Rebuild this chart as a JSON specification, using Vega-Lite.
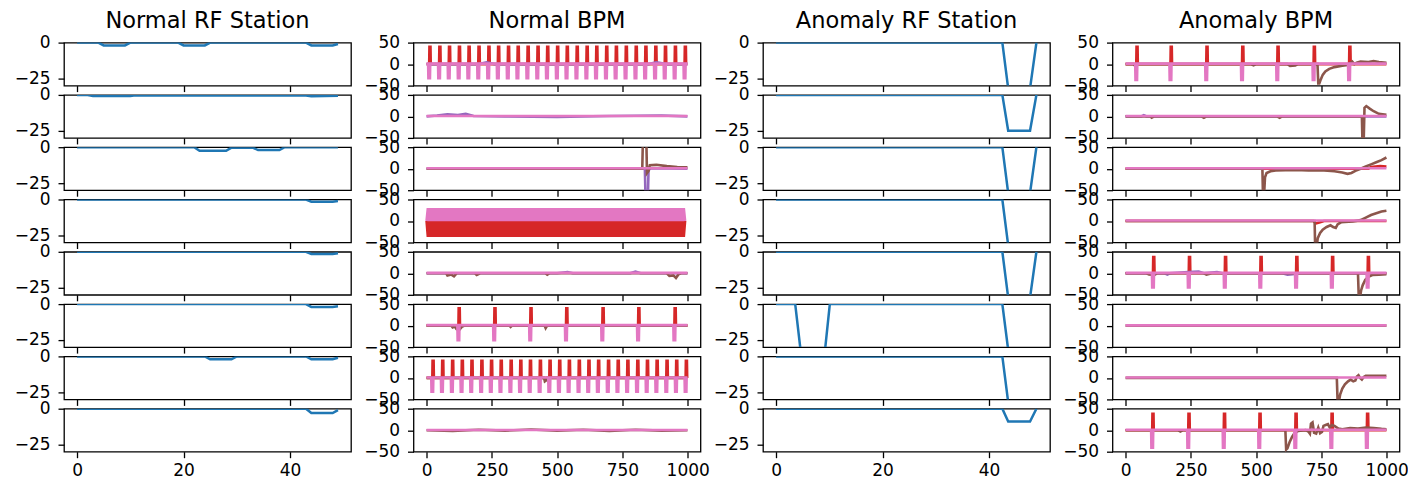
{
"$schema":"https://vega.github.io/schema/vega-lite/v6.json",
"padding":{"left":13,"top":8.6,"right":5,"bottom":0},
"background":"white",
"config":{
"view":{"stroke":"#000","strokeWidth":1.3},
"axis":{"grid":false,"domain":false,"ticks":true,"tickColor":"#000","tickWidth":1.3,"tickSize":6,"labelFont":"DejaVu Sans","labelFontSize":17,"labelColor":"#000","labelFlush":false,"labelOverlap":false,"labelBound":false},
"axisY":{"labelPadding":8},
"axisX":{"labelPadding":5,"format":"d"},
"title":{"font":"DejaVu Sans","fontSize":22.5,"fontWeight":"normal","color":"#000","anchor":"middle","frame":"group","baseline":"alphabetic","offset":1}
},
"datasets":{
"nr1":[{"x":0,"y":0},{"x":4,"y":0},{"x":5,"y":-2},{"x":9,"y":-2},{"x":10,"y":0},{"x":19,"y":0},{"x":20,"y":-2},{"x":24,"y":-2},{"x":25,"y":0},{"x":43,"y":0},{"x":44,"y":-2},{"x":48,"y":-2},{"x":49,"y":-1}],
"nr2":[{"x":0,"y":0},{"x":2,"y":0},{"x":3,"y":-0.7},{"x":10,"y":-0.7},{"x":11,"y":-0.3},{"x":30,"y":-0.4},{"x":43,"y":-0.4},{"x":44,"y":-0.9},{"x":49,"y":-0.6}],
"nr3":[{"x":0,"y":0},{"x":22,"y":0},{"x":23,"y":-2.5},{"x":28,"y":-2.5},{"x":29,"y":-0.3},{"x":33,"y":-0.3},{"x":34,"y":-2},{"x":38,"y":-2},{"x":39,"y":0},{"x":49,"y":0}],
"nr4":[{"x":0,"y":0},{"x":43,"y":0},{"x":44,"y":-1.5},{"x":48,"y":-1.5},{"x":49,"y":-1}],
"nr5":[{"x":0,"y":0},{"x":43,"y":0},{"x":44,"y":-1.5},{"x":48,"y":-1.5},{"x":49,"y":-1}],
"nr6":[{"x":0,"y":0},{"x":43,"y":0},{"x":44,"y":-2},{"x":48,"y":-2},{"x":49,"y":-1.5}],
"nr7":[{"x":0,"y":0},{"x":24,"y":0},{"x":25,"y":-2},{"x":29,"y":-2},{"x":30,"y":0},{"x":43,"y":0},{"x":44,"y":-2},{"x":48,"y":-2},{"x":49,"y":-1}],
"nr8":[{"x":0,"y":0},{"x":43,"y":0},{"x":44,"y":-3},{"x":48,"y":-3},{"x":49,"y":-1}],
"ar1":[{"x":0,"y":0},{"x":42.5,"y":0},{"x":43.6,"y":-32},{"x":47.7,"y":-32},{"x":48.9,"y":0}],
"ar2":[{"x":0,"y":0},{"x":42.5,"y":0},{"x":43.6,"y":-25},{"x":47.7,"y":-25},{"x":48.9,"y":0}],
"ar3":[{"x":0,"y":0},{"x":42.5,"y":0},{"x":43.6,"y":-32},{"x":47.7,"y":-32},{"x":48.9,"y":0}],
"ar4":[{"x":0,"y":0},{"x":42.5,"y":0},{"x":43.6,"y":-32},{"x":49,"y":-32}],
"ar5":[{"x":0,"y":0},{"x":42.5,"y":0},{"x":43.6,"y":-32},{"x":47.7,"y":-32},{"x":48.9,"y":0}],
"ar6":[{"x":0,"y":0},{"x":3.6,"y":0},{"x":4.6,"y":-32},{"x":9.2,"y":-32},{"x":10.1,"y":0},{"x":42.5,"y":0},{"x":43.6,"y":-32},{"x":49,"y":-32}],
"ar7":[{"x":0,"y":0},{"x":42.5,"y":0},{"x":43.6,"y":-32},{"x":49,"y":-32}],
"ar8":[{"x":0,"y":0},{"x":42.5,"y":0},{"x":43.6,"y":-9},{"x":47.7,"y":-9},{"x":48.9,"y":0}],
"nb1":[
{"s":"r","x":0,"y":0},
{"s":"r","x":10,"y":0},{"s":"r","x":11,"y":40},{"s":"r","x":15,"y":40},{"s":"r","x":16,"y":0},
{"s":"r","x":48,"y":0},{"s":"r","x":49,"y":40},{"s":"r","x":53,"y":40},{"s":"r","x":54,"y":0},
{"s":"r","x":85,"y":0},{"s":"r","x":86,"y":40},{"s":"r","x":90,"y":40},{"s":"r","x":91,"y":0},
{"s":"r","x":123,"y":0},{"s":"r","x":124,"y":40},{"s":"r","x":128,"y":40},{"s":"r","x":129,"y":0},
{"s":"r","x":160,"y":0},{"s":"r","x":161,"y":40},{"s":"r","x":165,"y":40},{"s":"r","x":166,"y":0},
{"s":"r","x":198,"y":0},{"s":"r","x":199,"y":40},{"s":"r","x":203,"y":40},{"s":"r","x":204,"y":0},
{"s":"r","x":236,"y":0},{"s":"r","x":237,"y":40},{"s":"r","x":241,"y":40},{"s":"r","x":242,"y":0},
{"s":"r","x":273,"y":0},{"s":"r","x":274,"y":40},{"s":"r","x":278,"y":40},{"s":"r","x":279,"y":0},
{"s":"r","x":311,"y":0},{"s":"r","x":312,"y":40},{"s":"r","x":316,"y":40},{"s":"r","x":317,"y":0},
{"s":"r","x":348,"y":0},{"s":"r","x":349,"y":40},{"s":"r","x":353,"y":40},{"s":"r","x":354,"y":0},
{"s":"r","x":386,"y":0},{"s":"r","x":387,"y":40},{"s":"r","x":391,"y":40},{"s":"r","x":392,"y":0},
{"s":"r","x":424,"y":0},{"s":"r","x":425,"y":40},{"s":"r","x":429,"y":40},{"s":"r","x":430,"y":0},
{"s":"r","x":461,"y":0},{"s":"r","x":462,"y":40},{"s":"r","x":466,"y":40},{"s":"r","x":467,"y":0},
{"s":"r","x":499,"y":0},{"s":"r","x":500,"y":40},{"s":"r","x":504,"y":40},{"s":"r","x":505,"y":0},
{"s":"r","x":536,"y":0},{"s":"r","x":537,"y":40},{"s":"r","x":541,"y":40},{"s":"r","x":542,"y":0},
{"s":"r","x":574,"y":0},{"s":"r","x":575,"y":40},{"s":"r","x":579,"y":40},{"s":"r","x":580,"y":0},
{"s":"r","x":612,"y":0},{"s":"r","x":613,"y":40},{"s":"r","x":617,"y":40},{"s":"r","x":618,"y":0},
{"s":"r","x":649,"y":0},{"s":"r","x":650,"y":40},{"s":"r","x":654,"y":40},{"s":"r","x":655,"y":0},
{"s":"r","x":687,"y":0},{"s":"r","x":688,"y":40},{"s":"r","x":692,"y":40},{"s":"r","x":693,"y":0},
{"s":"r","x":724,"y":0},{"s":"r","x":725,"y":40},{"s":"r","x":729,"y":40},{"s":"r","x":730,"y":0},
{"s":"r","x":762,"y":0},{"s":"r","x":763,"y":40},{"s":"r","x":767,"y":40},{"s":"r","x":768,"y":0},
{"s":"r","x":800,"y":0},{"s":"r","x":801,"y":40},{"s":"r","x":805,"y":40},{"s":"r","x":806,"y":0},
{"s":"r","x":837,"y":0},{"s":"r","x":838,"y":40},{"s":"r","x":842,"y":40},{"s":"r","x":843,"y":0},
{"s":"r","x":875,"y":0},{"s":"r","x":876,"y":40},{"s":"r","x":880,"y":40},{"s":"r","x":881,"y":0},
{"s":"r","x":912,"y":0},{"s":"r","x":913,"y":40},{"s":"r","x":917,"y":40},{"s":"r","x":918,"y":0},
{"s":"r","x":950,"y":0},{"s":"r","x":951,"y":40},{"s":"r","x":955,"y":40},{"s":"r","x":956,"y":0},
{"s":"r","x":988,"y":0},{"s":"r","x":989,"y":40},{"s":"r","x":993,"y":40},{"s":"r","x":994,"y":0},
{"s":"r","x":999,"y":0},
{"s":"u","x":0,"y":0},{"s":"u","x":200,"y":0},{"s":"u","x":230,"y":4},{"s":"u","x":260,"y":0},{"s":"u","x":850,"y":0},{"s":"u","x":880,"y":4},{"s":"u","x":920,"y":0},{"s":"u","x":999,"y":0},
{"s":"p","x":0,"y":1},
{"s":"p","x":6,"y":1},{"s":"p","x":7,"y":-33},{"s":"p","x":13,"y":-33},{"s":"p","x":14,"y":1},
{"s":"p","x":44,"y":1},{"s":"p","x":45,"y":-33},{"s":"p","x":51,"y":-33},{"s":"p","x":52,"y":1},
{"s":"p","x":81,"y":1},{"s":"p","x":82,"y":-33},{"s":"p","x":88,"y":-33},{"s":"p","x":89,"y":1},
{"s":"p","x":119,"y":1},{"s":"p","x":120,"y":-33},{"s":"p","x":126,"y":-33},{"s":"p","x":127,"y":1},
{"s":"p","x":156,"y":1},{"s":"p","x":157,"y":-33},{"s":"p","x":163,"y":-33},{"s":"p","x":164,"y":1},
{"s":"p","x":194,"y":1},{"s":"p","x":195,"y":-33},{"s":"p","x":201,"y":-33},{"s":"p","x":202,"y":1},
{"s":"p","x":232,"y":1},{"s":"p","x":233,"y":-33},{"s":"p","x":239,"y":-33},{"s":"p","x":240,"y":1},
{"s":"p","x":269,"y":1},{"s":"p","x":270,"y":-33},{"s":"p","x":276,"y":-33},{"s":"p","x":277,"y":1},
{"s":"p","x":307,"y":1},{"s":"p","x":308,"y":-33},{"s":"p","x":314,"y":-33},{"s":"p","x":315,"y":1},
{"s":"p","x":344,"y":1},{"s":"p","x":345,"y":-33},{"s":"p","x":351,"y":-33},{"s":"p","x":352,"y":1},
{"s":"p","x":382,"y":1},{"s":"p","x":383,"y":-33},{"s":"p","x":389,"y":-33},{"s":"p","x":390,"y":1},
{"s":"p","x":420,"y":1},{"s":"p","x":421,"y":-33},{"s":"p","x":427,"y":-33},{"s":"p","x":428,"y":1},
{"s":"p","x":457,"y":1},{"s":"p","x":458,"y":-33},{"s":"p","x":464,"y":-33},{"s":"p","x":465,"y":1},
{"s":"p","x":495,"y":1},{"s":"p","x":496,"y":-33},{"s":"p","x":502,"y":-33},{"s":"p","x":503,"y":1},
{"s":"p","x":532,"y":1},{"s":"p","x":533,"y":-33},{"s":"p","x":539,"y":-33},{"s":"p","x":540,"y":1},
{"s":"p","x":570,"y":1},{"s":"p","x":571,"y":-33},{"s":"p","x":577,"y":-33},{"s":"p","x":578,"y":1},
{"s":"p","x":608,"y":1},{"s":"p","x":609,"y":-33},{"s":"p","x":615,"y":-33},{"s":"p","x":616,"y":1},
{"s":"p","x":645,"y":1},{"s":"p","x":646,"y":-33},{"s":"p","x":652,"y":-33},{"s":"p","x":653,"y":1},
{"s":"p","x":683,"y":1},{"s":"p","x":684,"y":-33},{"s":"p","x":690,"y":-33},{"s":"p","x":691,"y":1},
{"s":"p","x":720,"y":1},{"s":"p","x":721,"y":-33},{"s":"p","x":727,"y":-33},{"s":"p","x":728,"y":1},
{"s":"p","x":758,"y":1},{"s":"p","x":759,"y":-33},{"s":"p","x":765,"y":-33},{"s":"p","x":766,"y":1},
{"s":"p","x":796,"y":1},{"s":"p","x":797,"y":-33},{"s":"p","x":803,"y":-33},{"s":"p","x":804,"y":1},
{"s":"p","x":833,"y":1},{"s":"p","x":834,"y":-33},{"s":"p","x":840,"y":-33},{"s":"p","x":841,"y":1},
{"s":"p","x":871,"y":1},{"s":"p","x":872,"y":-33},{"s":"p","x":878,"y":-33},{"s":"p","x":879,"y":1},
{"s":"p","x":908,"y":1},{"s":"p","x":909,"y":-33},{"s":"p","x":915,"y":-33},{"s":"p","x":916,"y":1},
{"s":"p","x":946,"y":1},{"s":"p","x":947,"y":-33},{"s":"p","x":953,"y":-33},{"s":"p","x":954,"y":1},
{"s":"p","x":984,"y":1},{"s":"p","x":985,"y":-33},{"s":"p","x":991,"y":-33},{"s":"p","x":992,"y":1},
{"s":"p","x":999,"y":1}
],
"nb2":[
{"s":"u","x":0,"y":0},{"s":"u","x":40,"y":2},{"s":"u","x":80,"y":5},{"s":"u","x":120,"y":3},{"s":"u","x":150,"y":6},{"s":"u","x":180,"y":1},{"s":"u","x":300,"y":0},{"s":"u","x":500,"y":-1},{"s":"u","x":700,"y":1},{"s":"u","x":900,"y":2},{"s":"u","x":999,"y":0},
{"s":"p","x":0,"y":1},{"s":"p","x":999,"y":1}
],
"nb3":[
{"s":"u","x":0,"y":0},{"s":"u","x":836,"y":0},{"s":"u","x":838,"y":-55},{"s":"u","x":848,"y":-55},{"s":"u","x":850,"y":-3},{"s":"u","x":860,"y":1},{"s":"u","x":999,"y":0},
{"s":"b","x":0,"y":0},{"s":"b","x":826,"y":0},{"s":"b","x":828,"y":55},{"s":"b","x":842,"y":55},{"s":"b","x":844,"y":-10},{"s":"b","x":850,"y":-5},{"s":"b","x":855,"y":8},{"s":"b","x":880,"y":9},{"s":"b","x":920,"y":6},{"s":"b","x":960,"y":4},{"s":"b","x":999,"y":3},
{"s":"p","x":0,"y":1},{"s":"p","x":999,"y":1}
],
"nb4":[
{"s":"r","x":0,"y":0},{"s":"r","x":5,"y":-37},{"s":"r","x":10,"y":0},{"s":"r","x":15,"y":-37},{"s":"r","x":20,"y":0},{"s":"r","x":25,"y":-37},{"s":"r","x":30,"y":0},{"s":"r","x":35,"y":-37},{"s":"r","x":40,"y":0},{"s":"r","x":45,"y":-37},
{"s":"r","x":50,"y":0},{"s":"r","x":55,"y":-37},{"s":"r","x":60,"y":0},{"s":"r","x":65,"y":-37},{"s":"r","x":70,"y":0},{"s":"r","x":75,"y":-37},{"s":"r","x":80,"y":0},{"s":"r","x":85,"y":-37},{"s":"r","x":90,"y":0},{"s":"r","x":95,"y":-37},
{"s":"r","x":100,"y":0},{"s":"r","x":105,"y":-37},{"s":"r","x":110,"y":0},{"s":"r","x":115,"y":-37},{"s":"r","x":120,"y":0},{"s":"r","x":125,"y":-37},{"s":"r","x":130,"y":0},{"s":"r","x":135,"y":-37},{"s":"r","x":140,"y":0},{"s":"r","x":145,"y":-37},
{"s":"r","x":150,"y":0},{"s":"r","x":155,"y":-37},{"s":"r","x":160,"y":0},{"s":"r","x":165,"y":-37},{"s":"r","x":170,"y":0},{"s":"r","x":175,"y":-37},{"s":"r","x":180,"y":0},{"s":"r","x":185,"y":-37},{"s":"r","x":190,"y":0},{"s":"r","x":195,"y":-37},
{"s":"r","x":200,"y":0},{"s":"r","x":205,"y":-37},{"s":"r","x":210,"y":0},{"s":"r","x":215,"y":-37},{"s":"r","x":220,"y":0},{"s":"r","x":225,"y":-37},{"s":"r","x":230,"y":0},{"s":"r","x":235,"y":-37},{"s":"r","x":240,"y":0},{"s":"r","x":245,"y":-37},
{"s":"r","x":250,"y":0},{"s":"r","x":255,"y":-37},{"s":"r","x":260,"y":0},{"s":"r","x":265,"y":-37},{"s":"r","x":270,"y":0},{"s":"r","x":275,"y":-37},{"s":"r","x":280,"y":0},{"s":"r","x":285,"y":-37},{"s":"r","x":290,"y":0},{"s":"r","x":295,"y":-37},
{"s":"r","x":300,"y":0},{"s":"r","x":305,"y":-37},{"s":"r","x":310,"y":0},{"s":"r","x":315,"y":-37},{"s":"r","x":320,"y":0},{"s":"r","x":325,"y":-37},{"s":"r","x":330,"y":0},{"s":"r","x":335,"y":-37},{"s":"r","x":340,"y":0},{"s":"r","x":345,"y":-37},
{"s":"r","x":350,"y":0},{"s":"r","x":355,"y":-37},{"s":"r","x":360,"y":0},{"s":"r","x":365,"y":-37},{"s":"r","x":370,"y":0},{"s":"r","x":375,"y":-37},{"s":"r","x":380,"y":0},{"s":"r","x":385,"y":-37},{"s":"r","x":390,"y":0},{"s":"r","x":395,"y":-37},
{"s":"r","x":400,"y":0},{"s":"r","x":405,"y":-37},{"s":"r","x":410,"y":0},{"s":"r","x":415,"y":-37},{"s":"r","x":420,"y":0},{"s":"r","x":425,"y":-37},{"s":"r","x":430,"y":0},{"s":"r","x":435,"y":-37},{"s":"r","x":440,"y":0},{"s":"r","x":445,"y":-37},
{"s":"r","x":450,"y":0},{"s":"r","x":455,"y":-37},{"s":"r","x":460,"y":0},{"s":"r","x":465,"y":-37},{"s":"r","x":470,"y":0},{"s":"r","x":475,"y":-37},{"s":"r","x":480,"y":0},{"s":"r","x":485,"y":-37},{"s":"r","x":490,"y":0},{"s":"r","x":495,"y":-37},
{"s":"r","x":500,"y":0},{"s":"r","x":505,"y":-37},{"s":"r","x":510,"y":0},{"s":"r","x":515,"y":-37},{"s":"r","x":520,"y":0},{"s":"r","x":525,"y":-37},{"s":"r","x":530,"y":0},{"s":"r","x":535,"y":-37},{"s":"r","x":540,"y":0},{"s":"r","x":545,"y":-37},
{"s":"r","x":550,"y":0},{"s":"r","x":555,"y":-37},{"s":"r","x":560,"y":0},{"s":"r","x":565,"y":-37},{"s":"r","x":570,"y":0},{"s":"r","x":575,"y":-37},{"s":"r","x":580,"y":0},{"s":"r","x":585,"y":-37},{"s":"r","x":590,"y":0},{"s":"r","x":595,"y":-37},
{"s":"r","x":600,"y":0},{"s":"r","x":605,"y":-37},{"s":"r","x":610,"y":0},{"s":"r","x":615,"y":-37},{"s":"r","x":620,"y":0},{"s":"r","x":625,"y":-37},{"s":"r","x":630,"y":0},{"s":"r","x":635,"y":-37},{"s":"r","x":640,"y":0},{"s":"r","x":645,"y":-37},
{"s":"r","x":650,"y":0},{"s":"r","x":655,"y":-37},{"s":"r","x":660,"y":0},{"s":"r","x":665,"y":-37},{"s":"r","x":670,"y":0},{"s":"r","x":675,"y":-37},{"s":"r","x":680,"y":0},{"s":"r","x":685,"y":-37},{"s":"r","x":690,"y":0},{"s":"r","x":695,"y":-37},
{"s":"r","x":700,"y":0},{"s":"r","x":705,"y":-37},{"s":"r","x":710,"y":0},{"s":"r","x":715,"y":-37},{"s":"r","x":720,"y":0},{"s":"r","x":725,"y":-37},{"s":"r","x":730,"y":0},{"s":"r","x":735,"y":-37},{"s":"r","x":740,"y":0},{"s":"r","x":745,"y":-37},
{"s":"r","x":750,"y":0},{"s":"r","x":755,"y":-37},{"s":"r","x":760,"y":0},{"s":"r","x":765,"y":-37},{"s":"r","x":770,"y":0},{"s":"r","x":775,"y":-37},{"s":"r","x":780,"y":0},{"s":"r","x":785,"y":-37},{"s":"r","x":790,"y":0},{"s":"r","x":795,"y":-37},
{"s":"r","x":800,"y":0},{"s":"r","x":805,"y":-37},{"s":"r","x":810,"y":0},{"s":"r","x":815,"y":-37},{"s":"r","x":820,"y":0},{"s":"r","x":825,"y":-37},{"s":"r","x":830,"y":0},{"s":"r","x":835,"y":-37},{"s":"r","x":840,"y":0},{"s":"r","x":845,"y":-37},
{"s":"r","x":850,"y":0},{"s":"r","x":855,"y":-37},{"s":"r","x":860,"y":0},{"s":"r","x":865,"y":-37},{"s":"r","x":870,"y":0},{"s":"r","x":875,"y":-37},{"s":"r","x":880,"y":0},{"s":"r","x":885,"y":-37},{"s":"r","x":890,"y":0},{"s":"r","x":895,"y":-37},
{"s":"r","x":900,"y":0},{"s":"r","x":905,"y":-37},{"s":"r","x":910,"y":0},{"s":"r","x":915,"y":-37},{"s":"r","x":920,"y":0},{"s":"r","x":925,"y":-37},{"s":"r","x":930,"y":0},{"s":"r","x":935,"y":-37},{"s":"r","x":940,"y":0},{"s":"r","x":945,"y":-37},
{"s":"r","x":950,"y":0},{"s":"r","x":955,"y":-37},{"s":"r","x":960,"y":0},{"s":"r","x":965,"y":-37},{"s":"r","x":970,"y":0},{"s":"r","x":975,"y":-37},{"s":"r","x":980,"y":0},{"s":"r","x":985,"y":-37},{"s":"r","x":990,"y":0},
{"s":"p","x":0,"y":0},{"s":"p","x":5,"y":30},{"s":"p","x":10,"y":0},{"s":"p","x":15,"y":30},{"s":"p","x":20,"y":0},{"s":"p","x":25,"y":30},{"s":"p","x":30,"y":0},{"s":"p","x":35,"y":30},{"s":"p","x":40,"y":0},{"s":"p","x":45,"y":30},
{"s":"p","x":50,"y":0},{"s":"p","x":55,"y":30},{"s":"p","x":60,"y":0},{"s":"p","x":65,"y":30},{"s":"p","x":70,"y":0},{"s":"p","x":75,"y":30},{"s":"p","x":80,"y":0},{"s":"p","x":85,"y":30},{"s":"p","x":90,"y":0},{"s":"p","x":95,"y":30},
{"s":"p","x":100,"y":0},{"s":"p","x":105,"y":30},{"s":"p","x":110,"y":0},{"s":"p","x":115,"y":30},{"s":"p","x":120,"y":0},{"s":"p","x":125,"y":30},{"s":"p","x":130,"y":0},{"s":"p","x":135,"y":30},{"s":"p","x":140,"y":0},{"s":"p","x":145,"y":30},
{"s":"p","x":150,"y":0},{"s":"p","x":155,"y":30},{"s":"p","x":160,"y":0},{"s":"p","x":165,"y":30},{"s":"p","x":170,"y":0},{"s":"p","x":175,"y":30},{"s":"p","x":180,"y":0},{"s":"p","x":185,"y":30},{"s":"p","x":190,"y":0},{"s":"p","x":195,"y":30},
{"s":"p","x":200,"y":0},{"s":"p","x":205,"y":30},{"s":"p","x":210,"y":0},{"s":"p","x":215,"y":30},{"s":"p","x":220,"y":0},{"s":"p","x":225,"y":30},{"s":"p","x":230,"y":0},{"s":"p","x":235,"y":30},{"s":"p","x":240,"y":0},{"s":"p","x":245,"y":30},
{"s":"p","x":250,"y":0},{"s":"p","x":255,"y":30},{"s":"p","x":260,"y":0},{"s":"p","x":265,"y":30},{"s":"p","x":270,"y":0},{"s":"p","x":275,"y":30},{"s":"p","x":280,"y":0},{"s":"p","x":285,"y":30},{"s":"p","x":290,"y":0},{"s":"p","x":295,"y":30},
{"s":"p","x":300,"y":0},{"s":"p","x":305,"y":30},{"s":"p","x":310,"y":0},{"s":"p","x":315,"y":30},{"s":"p","x":320,"y":0},{"s":"p","x":325,"y":30},{"s":"p","x":330,"y":0},{"s":"p","x":335,"y":30},{"s":"p","x":340,"y":0},{"s":"p","x":345,"y":30},
{"s":"p","x":350,"y":0},{"s":"p","x":355,"y":30},{"s":"p","x":360,"y":0},{"s":"p","x":365,"y":30},{"s":"p","x":370,"y":0},{"s":"p","x":375,"y":30},{"s":"p","x":380,"y":0},{"s":"p","x":385,"y":30},{"s":"p","x":390,"y":0},{"s":"p","x":395,"y":30},
{"s":"p","x":400,"y":0},{"s":"p","x":405,"y":30},{"s":"p","x":410,"y":0},{"s":"p","x":415,"y":30},{"s":"p","x":420,"y":0},{"s":"p","x":425,"y":30},{"s":"p","x":430,"y":0},{"s":"p","x":435,"y":30},{"s":"p","x":440,"y":0},{"s":"p","x":445,"y":30},
{"s":"p","x":450,"y":0},{"s":"p","x":455,"y":30},{"s":"p","x":460,"y":0},{"s":"p","x":465,"y":30},{"s":"p","x":470,"y":0},{"s":"p","x":475,"y":30},{"s":"p","x":480,"y":0},{"s":"p","x":485,"y":30},{"s":"p","x":490,"y":0},{"s":"p","x":495,"y":30},
{"s":"p","x":500,"y":0},{"s":"p","x":505,"y":30},{"s":"p","x":510,"y":0},{"s":"p","x":515,"y":30},{"s":"p","x":520,"y":0},{"s":"p","x":525,"y":30},{"s":"p","x":530,"y":0},{"s":"p","x":535,"y":30},{"s":"p","x":540,"y":0},{"s":"p","x":545,"y":30},
{"s":"p","x":550,"y":0},{"s":"p","x":555,"y":30},{"s":"p","x":560,"y":0},{"s":"p","x":565,"y":30},{"s":"p","x":570,"y":0},{"s":"p","x":575,"y":30},{"s":"p","x":580,"y":0},{"s":"p","x":585,"y":30},{"s":"p","x":590,"y":0},{"s":"p","x":595,"y":30},
{"s":"p","x":600,"y":0},{"s":"p","x":605,"y":30},{"s":"p","x":610,"y":0},{"s":"p","x":615,"y":30},{"s":"p","x":620,"y":0},{"s":"p","x":625,"y":30},{"s":"p","x":630,"y":0},{"s":"p","x":635,"y":30},{"s":"p","x":640,"y":0},{"s":"p","x":645,"y":30},
{"s":"p","x":650,"y":0},{"s":"p","x":655,"y":30},{"s":"p","x":660,"y":0},{"s":"p","x":665,"y":30},{"s":"p","x":670,"y":0},{"s":"p","x":675,"y":30},{"s":"p","x":680,"y":0},{"s":"p","x":685,"y":30},{"s":"p","x":690,"y":0},{"s":"p","x":695,"y":30},
{"s":"p","x":700,"y":0},{"s":"p","x":705,"y":30},{"s":"p","x":710,"y":0},{"s":"p","x":715,"y":30},{"s":"p","x":720,"y":0},{"s":"p","x":725,"y":30},{"s":"p","x":730,"y":0},{"s":"p","x":735,"y":30},{"s":"p","x":740,"y":0},{"s":"p","x":745,"y":30},
{"s":"p","x":750,"y":0},{"s":"p","x":755,"y":30},{"s":"p","x":760,"y":0},{"s":"p","x":765,"y":30},{"s":"p","x":770,"y":0},{"s":"p","x":775,"y":30},{"s":"p","x":780,"y":0},{"s":"p","x":785,"y":30},{"s":"p","x":790,"y":0},{"s":"p","x":795,"y":30},
{"s":"p","x":800,"y":0},{"s":"p","x":805,"y":30},{"s":"p","x":810,"y":0},{"s":"p","x":815,"y":30},{"s":"p","x":820,"y":0},{"s":"p","x":825,"y":30},{"s":"p","x":830,"y":0},{"s":"p","x":835,"y":30},{"s":"p","x":840,"y":0},{"s":"p","x":845,"y":30},
{"s":"p","x":850,"y":0},{"s":"p","x":855,"y":30},{"s":"p","x":860,"y":0},{"s":"p","x":865,"y":30},{"s":"p","x":870,"y":0},{"s":"p","x":875,"y":30},{"s":"p","x":880,"y":0},{"s":"p","x":885,"y":30},{"s":"p","x":890,"y":0},{"s":"p","x":895,"y":30},
{"s":"p","x":900,"y":0},{"s":"p","x":905,"y":30},{"s":"p","x":910,"y":0},{"s":"p","x":915,"y":30},{"s":"p","x":920,"y":0},{"s":"p","x":925,"y":30},{"s":"p","x":930,"y":0},{"s":"p","x":935,"y":30},{"s":"p","x":940,"y":0},{"s":"p","x":945,"y":30},
{"s":"p","x":950,"y":0},{"s":"p","x":955,"y":30},{"s":"p","x":960,"y":0},{"s":"p","x":965,"y":30},{"s":"p","x":970,"y":0},{"s":"p","x":975,"y":30},{"s":"p","x":980,"y":0},{"s":"p","x":985,"y":30},{"s":"p","x":990,"y":0}
],
"nb5":[
{"s":"u","x":0,"y":0},{"s":"u","x":500,"y":0},{"s":"u","x":540,"y":3},{"s":"u","x":560,"y":0},{"s":"u","x":780,"y":0},{"s":"u","x":800,"y":4},{"s":"u","x":820,"y":0},{"s":"u","x":999,"y":0},
{"s":"b","x":0,"y":0},{"s":"b","x":75,"y":0},{"s":"b","x":80,"y":-5},{"s":"b","x":95,"y":-3},{"s":"b","x":105,"y":-7},{"s":"b","x":115,"y":0},{"s":"b","x":185,"y":0},{"s":"b","x":192,"y":-4},{"s":"b","x":205,"y":0},{"s":"b","x":455,"y":0},{"s":"b","x":462,"y":-3},{"s":"b","x":470,"y":0},{"s":"b","x":920,"y":0},{"s":"b","x":930,"y":-6},{"s":"b","x":945,"y":-5},{"s":"b","x":955,"y":-11},{"s":"b","x":965,"y":-2},{"s":"b","x":975,"y":0},{"s":"b","x":999,"y":0},
{"s":"p","x":0,"y":1},{"s":"p","x":999,"y":1}
],
"nb6":[
{"s":"r","x":0,"y":0},
{"s":"r","x":122,"y":0},{"s":"r","x":123,"y":40},{"s":"r","x":127,"y":40},{"s":"r","x":128,"y":0},
{"s":"r","x":259,"y":0},{"s":"r","x":260,"y":40},{"s":"r","x":264,"y":40},{"s":"r","x":265,"y":0},
{"s":"r","x":397,"y":0},{"s":"r","x":398,"y":40},{"s":"r","x":402,"y":40},{"s":"r","x":403,"y":0},
{"s":"r","x":534,"y":0},{"s":"r","x":535,"y":40},{"s":"r","x":539,"y":40},{"s":"r","x":540,"y":0},
{"s":"r","x":673,"y":0},{"s":"r","x":674,"y":40},{"s":"r","x":678,"y":40},{"s":"r","x":679,"y":0},
{"s":"r","x":810,"y":0},{"s":"r","x":811,"y":40},{"s":"r","x":815,"y":40},{"s":"r","x":816,"y":0},
{"s":"r","x":949,"y":0},{"s":"r","x":950,"y":40},{"s":"r","x":954,"y":40},{"s":"r","x":955,"y":0},
{"s":"r","x":999,"y":0},
{"s":"b","x":0,"y":0},{"s":"b","x":95,"y":0},{"s":"b","x":100,"y":-4},{"s":"b","x":108,"y":-2},{"s":"b","x":115,"y":-8},{"s":"b","x":125,"y":-10},{"s":"b","x":135,"y":-3},{"s":"b","x":145,"y":0},{"s":"b","x":318,"y":0},{"s":"b","x":322,"y":-3},{"s":"b","x":328,"y":0},{"s":"b","x":452,"y":0},{"s":"b","x":456,"y":-6},{"s":"b","x":462,"y":0},{"s":"b","x":999,"y":0},
{"s":"p","x":0,"y":1},
{"s":"p","x":118,"y":1},{"s":"p","x":119,"y":-34},{"s":"p","x":125,"y":-34},{"s":"p","x":126,"y":1},
{"s":"p","x":255,"y":1},{"s":"p","x":256,"y":-34},{"s":"p","x":262,"y":-34},{"s":"p","x":263,"y":1},
{"s":"p","x":393,"y":1},{"s":"p","x":394,"y":-34},{"s":"p","x":400,"y":-34},{"s":"p","x":401,"y":1},
{"s":"p","x":530,"y":1},{"s":"p","x":531,"y":-34},{"s":"p","x":537,"y":-34},{"s":"p","x":538,"y":1},
{"s":"p","x":669,"y":1},{"s":"p","x":670,"y":-34},{"s":"p","x":676,"y":-34},{"s":"p","x":677,"y":1},
{"s":"p","x":806,"y":1},{"s":"p","x":807,"y":-34},{"s":"p","x":813,"y":-34},{"s":"p","x":814,"y":1},
{"s":"p","x":945,"y":1},{"s":"p","x":946,"y":-34},{"s":"p","x":952,"y":-34},{"s":"p","x":953,"y":1},
{"s":"p","x":999,"y":1}
],
"nb7":[
{"s":"r","x":0,"y":0},
{"s":"r","x":22,"y":0},{"s":"r","x":23,"y":40},{"s":"r","x":27,"y":40},{"s":"r","x":28,"y":0},
{"s":"r","x":59,"y":0},{"s":"r","x":60,"y":40},{"s":"r","x":64,"y":40},{"s":"r","x":65,"y":0},
{"s":"r","x":97,"y":0},{"s":"r","x":98,"y":40},{"s":"r","x":102,"y":40},{"s":"r","x":103,"y":0},
{"s":"r","x":134,"y":0},{"s":"r","x":135,"y":40},{"s":"r","x":139,"y":40},{"s":"r","x":140,"y":0},
{"s":"r","x":171,"y":0},{"s":"r","x":172,"y":40},{"s":"r","x":176,"y":40},{"s":"r","x":177,"y":0},
{"s":"r","x":209,"y":0},{"s":"r","x":210,"y":40},{"s":"r","x":214,"y":40},{"s":"r","x":215,"y":0},
{"s":"r","x":246,"y":0},{"s":"r","x":247,"y":40},{"s":"r","x":251,"y":40},{"s":"r","x":252,"y":0},
{"s":"r","x":283,"y":0},{"s":"r","x":284,"y":40},{"s":"r","x":288,"y":40},{"s":"r","x":289,"y":0},
{"s":"r","x":321,"y":0},{"s":"r","x":322,"y":40},{"s":"r","x":326,"y":40},{"s":"r","x":327,"y":0},
{"s":"r","x":358,"y":0},{"s":"r","x":359,"y":40},{"s":"r","x":363,"y":40},{"s":"r","x":364,"y":0},
{"s":"r","x":395,"y":0},{"s":"r","x":396,"y":40},{"s":"r","x":400,"y":40},{"s":"r","x":401,"y":0},
{"s":"r","x":433,"y":0},{"s":"r","x":434,"y":40},{"s":"r","x":438,"y":40},{"s":"r","x":439,"y":0},
{"s":"r","x":470,"y":0},{"s":"r","x":471,"y":40},{"s":"r","x":475,"y":40},{"s":"r","x":476,"y":0},
{"s":"r","x":507,"y":0},{"s":"r","x":508,"y":40},{"s":"r","x":512,"y":40},{"s":"r","x":513,"y":0},
{"s":"r","x":544,"y":0},{"s":"r","x":545,"y":40},{"s":"r","x":549,"y":40},{"s":"r","x":550,"y":0},
{"s":"r","x":582,"y":0},{"s":"r","x":583,"y":40},{"s":"r","x":587,"y":40},{"s":"r","x":588,"y":0},
{"s":"r","x":619,"y":0},{"s":"r","x":620,"y":40},{"s":"r","x":624,"y":40},{"s":"r","x":625,"y":0},
{"s":"r","x":656,"y":0},{"s":"r","x":657,"y":40},{"s":"r","x":661,"y":40},{"s":"r","x":662,"y":0},
{"s":"r","x":694,"y":0},{"s":"r","x":695,"y":40},{"s":"r","x":699,"y":40},{"s":"r","x":700,"y":0},
{"s":"r","x":731,"y":0},{"s":"r","x":732,"y":40},{"s":"r","x":736,"y":40},{"s":"r","x":737,"y":0},
{"s":"r","x":768,"y":0},{"s":"r","x":769,"y":40},{"s":"r","x":773,"y":40},{"s":"r","x":774,"y":0},
{"s":"r","x":806,"y":0},{"s":"r","x":807,"y":40},{"s":"r","x":811,"y":40},{"s":"r","x":812,"y":0},
{"s":"r","x":843,"y":0},{"s":"r","x":844,"y":40},{"s":"r","x":848,"y":40},{"s":"r","x":849,"y":0},
{"s":"r","x":880,"y":0},{"s":"r","x":881,"y":40},{"s":"r","x":885,"y":40},{"s":"r","x":886,"y":0},
{"s":"r","x":918,"y":0},{"s":"r","x":919,"y":40},{"s":"r","x":923,"y":40},{"s":"r","x":924,"y":0},
{"s":"r","x":955,"y":0},{"s":"r","x":956,"y":40},{"s":"r","x":960,"y":40},{"s":"r","x":961,"y":0},
{"s":"r","x":992,"y":0},{"s":"r","x":993,"y":40},{"s":"r","x":997,"y":40},{"s":"r","x":998,"y":0},
{"s":"r","x":999,"y":0},
{"s":"b","x":0,"y":0},{"s":"b","x":450,"y":0},{"s":"b","x":453,"y":-8},{"s":"b","x":458,"y":-6},{"s":"b","x":462,"y":0},{"s":"b","x":999,"y":0},
{"s":"p","x":0,"y":1},
{"s":"p","x":18,"y":1},{"s":"p","x":19,"y":-32},{"s":"p","x":25,"y":-32},{"s":"p","x":26,"y":1},
{"s":"p","x":55,"y":1},{"s":"p","x":56,"y":-32},{"s":"p","x":62,"y":-32},{"s":"p","x":63,"y":1},
{"s":"p","x":93,"y":1},{"s":"p","x":94,"y":-32},{"s":"p","x":100,"y":-32},{"s":"p","x":101,"y":1},
{"s":"p","x":130,"y":1},{"s":"p","x":131,"y":-32},{"s":"p","x":137,"y":-32},{"s":"p","x":138,"y":1},
{"s":"p","x":167,"y":1},{"s":"p","x":168,"y":-32},{"s":"p","x":174,"y":-32},{"s":"p","x":175,"y":1},
{"s":"p","x":205,"y":1},{"s":"p","x":206,"y":-32},{"s":"p","x":212,"y":-32},{"s":"p","x":213,"y":1},
{"s":"p","x":242,"y":1},{"s":"p","x":243,"y":-32},{"s":"p","x":249,"y":-32},{"s":"p","x":250,"y":1},
{"s":"p","x":279,"y":1},{"s":"p","x":280,"y":-32},{"s":"p","x":286,"y":-32},{"s":"p","x":287,"y":1},
{"s":"p","x":317,"y":1},{"s":"p","x":318,"y":-32},{"s":"p","x":324,"y":-32},{"s":"p","x":325,"y":1},
{"s":"p","x":354,"y":1},{"s":"p","x":355,"y":-32},{"s":"p","x":361,"y":-32},{"s":"p","x":362,"y":1},
{"s":"p","x":391,"y":1},{"s":"p","x":392,"y":-32},{"s":"p","x":398,"y":-32},{"s":"p","x":399,"y":1},
{"s":"p","x":429,"y":1},{"s":"p","x":430,"y":-32},{"s":"p","x":436,"y":-32},{"s":"p","x":437,"y":1},
{"s":"p","x":466,"y":1},{"s":"p","x":467,"y":-32},{"s":"p","x":473,"y":-32},{"s":"p","x":474,"y":1},
{"s":"p","x":503,"y":1},{"s":"p","x":504,"y":-32},{"s":"p","x":510,"y":-32},{"s":"p","x":511,"y":1},
{"s":"p","x":540,"y":1},{"s":"p","x":541,"y":-32},{"s":"p","x":547,"y":-32},{"s":"p","x":548,"y":1},
{"s":"p","x":578,"y":1},{"s":"p","x":579,"y":-32},{"s":"p","x":585,"y":-32},{"s":"p","x":586,"y":1},
{"s":"p","x":615,"y":1},{"s":"p","x":616,"y":-32},{"s":"p","x":622,"y":-32},{"s":"p","x":623,"y":1},
{"s":"p","x":652,"y":1},{"s":"p","x":653,"y":-32},{"s":"p","x":659,"y":-32},{"s":"p","x":660,"y":1},
{"s":"p","x":690,"y":1},{"s":"p","x":691,"y":-32},{"s":"p","x":697,"y":-32},{"s":"p","x":698,"y":1},
{"s":"p","x":727,"y":1},{"s":"p","x":728,"y":-32},{"s":"p","x":734,"y":-32},{"s":"p","x":735,"y":1},
{"s":"p","x":764,"y":1},{"s":"p","x":765,"y":-32},{"s":"p","x":771,"y":-32},{"s":"p","x":772,"y":1},
{"s":"p","x":802,"y":1},{"s":"p","x":803,"y":-32},{"s":"p","x":809,"y":-32},{"s":"p","x":810,"y":1},
{"s":"p","x":839,"y":1},{"s":"p","x":840,"y":-32},{"s":"p","x":846,"y":-32},{"s":"p","x":847,"y":1},
{"s":"p","x":876,"y":1},{"s":"p","x":877,"y":-32},{"s":"p","x":883,"y":-32},{"s":"p","x":884,"y":1},
{"s":"p","x":914,"y":1},{"s":"p","x":915,"y":-32},{"s":"p","x":921,"y":-32},{"s":"p","x":922,"y":1},
{"s":"p","x":951,"y":1},{"s":"p","x":952,"y":-32},{"s":"p","x":958,"y":-32},{"s":"p","x":959,"y":1},
{"s":"p","x":988,"y":1},{"s":"p","x":989,"y":-32},{"s":"p","x":995,"y":-32},{"s":"p","x":996,"y":1},
{"s":"p","x":999,"y":1}
],
"nb8":[
{"s":"b","x":0,"y":0},{"s":"b","x":100,"y":-1.5},{"s":"b","x":200,"y":1},{"s":"b","x":300,"y":-1},{"s":"b","x":400,"y":1.5},{"s":"b","x":500,"y":-1},{"s":"b","x":600,"y":1},{"s":"b","x":700,"y":-1.5},{"s":"b","x":800,"y":1},{"s":"b","x":900,"y":-1},{"s":"b","x":999,"y":0},
{"s":"p","x":0,"y":0.5},{"s":"p","x":999,"y":0.5}
],
"ab1":[
{"s":"r","x":0,"y":0},
{"s":"r","x":41,"y":0},{"s":"r","x":42,"y":40},{"s":"r","x":46,"y":40},{"s":"r","x":47,"y":0},
{"s":"r","x":172,"y":0},{"s":"r","x":173,"y":40},{"s":"r","x":177,"y":40},{"s":"r","x":178,"y":0},
{"s":"r","x":309,"y":0},{"s":"r","x":310,"y":40},{"s":"r","x":314,"y":40},{"s":"r","x":315,"y":0},
{"s":"r","x":446,"y":0},{"s":"r","x":447,"y":40},{"s":"r","x":451,"y":40},{"s":"r","x":452,"y":0},
{"s":"r","x":581,"y":0},{"s":"r","x":582,"y":40},{"s":"r","x":586,"y":40},{"s":"r","x":587,"y":0},
{"s":"r","x":720,"y":0},{"s":"r","x":721,"y":40},{"s":"r","x":725,"y":40},{"s":"r","x":726,"y":0},
{"s":"r","x":856,"y":0},{"s":"r","x":857,"y":40},{"s":"r","x":861,"y":40},{"s":"r","x":862,"y":0},
{"s":"r","x":999,"y":0},
{"s":"b","x":0,"y":0},{"s":"b","x":30,"y":0},{"s":"b","x":35,"y":-3},{"s":"b","x":45,"y":0},{"s":"b","x":480,"y":0},{"s":"b","x":490,"y":-3},{"s":"b","x":500,"y":0},{"s":"b","x":620,"y":0},{"s":"b","x":630,"y":-4},{"s":"b","x":650,"y":-3},{"s":"b","x":660,"y":0},{"s":"b","x":735,"y":0},{"s":"b","x":738,"y":-45},{"s":"b","x":742,"y":-45},{"s":"b","x":748,"y":-35},{"s":"b","x":755,"y":-25},{"s":"b","x":765,"y":-17},{"s":"b","x":780,"y":-11},{"s":"b","x":800,"y":-7},{"s":"b","x":830,"y":-4},{"s":"b","x":850,"y":-2},{"s":"b","x":860,"y":2},{"s":"b","x":868,"y":6},{"s":"b","x":876,"y":0},{"s":"b","x":885,"y":3},{"s":"b","x":900,"y":6},{"s":"b","x":930,"y":5},{"s":"b","x":950,"y":7},{"s":"b","x":970,"y":5},{"s":"b","x":999,"y":3},
{"s":"p","x":0,"y":1},
{"s":"p","x":37,"y":1},{"s":"p","x":38,"y":-37},{"s":"p","x":44,"y":-37},{"s":"p","x":45,"y":1},
{"s":"p","x":168,"y":1},{"s":"p","x":169,"y":-37},{"s":"p","x":175,"y":-37},{"s":"p","x":176,"y":1},
{"s":"p","x":305,"y":1},{"s":"p","x":306,"y":-37},{"s":"p","x":312,"y":-37},{"s":"p","x":313,"y":1},
{"s":"p","x":442,"y":1},{"s":"p","x":443,"y":-37},{"s":"p","x":449,"y":-37},{"s":"p","x":450,"y":1},
{"s":"p","x":577,"y":1},{"s":"p","x":578,"y":-37},{"s":"p","x":584,"y":-37},{"s":"p","x":585,"y":1},
{"s":"p","x":716,"y":1},{"s":"p","x":717,"y":-37},{"s":"p","x":723,"y":-37},{"s":"p","x":724,"y":1},
{"s":"p","x":852,"y":1},{"s":"p","x":853,"y":-37},{"s":"p","x":859,"y":-37},{"s":"p","x":860,"y":1},
{"s":"p","x":999,"y":1}
],
"ab2":[
{"s":"u","x":0,"y":0},{"s":"u","x":60,"y":0},{"s":"u","x":70,"y":3},{"s":"u","x":80,"y":0},{"s":"u","x":999,"y":0},
{"s":"b","x":0,"y":0},{"s":"b","x":95,"y":0},{"s":"b","x":100,"y":-3},{"s":"b","x":110,"y":0},{"s":"b","x":290,"y":0},{"s":"b","x":300,"y":-3},{"s":"b","x":310,"y":0},{"s":"b","x":580,"y":0},{"s":"b","x":590,"y":-3},{"s":"b","x":600,"y":0},{"s":"b","x":905,"y":0},{"s":"b","x":907,"y":-55},{"s":"b","x":912,"y":-55},{"s":"b","x":915,"y":20},{"s":"b","x":922,"y":24},{"s":"b","x":935,"y":18},{"s":"b","x":950,"y":12},{"s":"b","x":970,"y":6},{"s":"b","x":999,"y":4},
{"s":"p","x":0,"y":1},{"s":"p","x":999,"y":1}
],
"ab3":[
{"s":"r","x":0,"y":0},{"s":"r","x":930,"y":0},{"s":"r","x":940,"y":4},{"s":"r","x":975,"y":6},{"s":"r","x":999,"y":5},
{"s":"b","x":0,"y":0},{"s":"b","x":524,"y":0},{"s":"b","x":526,"y":-55},{"s":"b","x":531,"y":-55},{"s":"b","x":534,"y":-20},{"s":"b","x":540,"y":-10},{"s":"b","x":555,"y":-6},{"s":"b","x":575,"y":-4},{"s":"b","x":650,"y":-3},{"s":"b","x":700,"y":-4},{"s":"b","x":760,"y":-4},{"s":"b","x":800,"y":-6},{"s":"b","x":830,"y":-9},{"s":"b","x":850,"y":-12},{"s":"b","x":865,"y":-10},{"s":"b","x":880,"y":-5},{"s":"b","x":900,"y":0},{"s":"b","x":920,"y":5},{"s":"b","x":940,"y":10},{"s":"b","x":960,"y":15},{"s":"b","x":980,"y":20},{"s":"b","x":999,"y":26},
{"s":"p","x":0,"y":1},{"s":"p","x":999,"y":1}
],
"ab4":[
{"s":"r","x":0,"y":0},{"s":"r","x":720,"y":0},{"s":"r","x":728,"y":-6},{"s":"r","x":745,"y":-3},{"s":"r","x":760,"y":0},{"s":"r","x":999,"y":0},
{"s":"b","x":0,"y":0},{"s":"b","x":724,"y":0},{"s":"b","x":726,"y":-60},{"s":"b","x":732,"y":-60},{"s":"b","x":736,"y":-40},{"s":"b","x":745,"y":-28},{"s":"b","x":755,"y":-20},{"s":"b","x":770,"y":-14},{"s":"b","x":785,"y":-10},{"s":"b","x":795,"y":-14},{"s":"b","x":805,"y":-16},{"s":"b","x":812,"y":-8},{"s":"b","x":825,"y":-3},{"s":"b","x":870,"y":-1},{"s":"b","x":900,"y":2},{"s":"b","x":920,"y":8},{"s":"b","x":940,"y":14},{"s":"b","x":960,"y":18},{"s":"b","x":980,"y":22},{"s":"b","x":999,"y":24},
{"s":"p","x":0,"y":1},{"s":"p","x":999,"y":1}
],
"ab5":[
{"s":"r","x":0,"y":0},
{"s":"r","x":105,"y":0},{"s":"r","x":106,"y":38},{"s":"r","x":110,"y":38},{"s":"r","x":111,"y":0},
{"s":"r","x":242,"y":0},{"s":"r","x":243,"y":38},{"s":"r","x":247,"y":38},{"s":"r","x":248,"y":0},
{"s":"r","x":380,"y":0},{"s":"r","x":381,"y":38},{"s":"r","x":385,"y":38},{"s":"r","x":386,"y":0},
{"s":"r","x":516,"y":0},{"s":"r","x":517,"y":38},{"s":"r","x":521,"y":38},{"s":"r","x":522,"y":0},
{"s":"r","x":653,"y":0},{"s":"r","x":654,"y":38},{"s":"r","x":658,"y":38},{"s":"r","x":659,"y":0},
{"s":"r","x":790,"y":0},{"s":"r","x":791,"y":38},{"s":"r","x":795,"y":38},{"s":"r","x":796,"y":0},
{"s":"r","x":927,"y":0},{"s":"r","x":928,"y":38},{"s":"r","x":932,"y":38},{"s":"r","x":933,"y":0},
{"s":"r","x":999,"y":0},
{"s":"u","x":0,"y":0},{"s":"u","x":150,"y":0},{"s":"u","x":160,"y":-3},{"s":"u","x":170,"y":0},{"s":"u","x":240,"y":3},{"s":"u","x":280,"y":4},{"s":"u","x":300,"y":0},{"s":"u","x":350,"y":3},{"s":"u","x":370,"y":0},{"s":"u","x":600,"y":0},{"s":"u","x":620,"y":-3},{"s":"u","x":640,"y":-2},{"s":"u","x":660,"y":0},{"s":"u","x":999,"y":0},
{"s":"b","x":0,"y":0},{"s":"b","x":80,"y":0},{"s":"b","x":90,"y":-3},{"s":"b","x":110,"y":-4},{"s":"b","x":120,"y":0},{"s":"b","x":300,"y":0},{"s":"b","x":310,"y":-3},{"s":"b","x":330,"y":0},{"s":"b","x":890,"y":0},{"s":"b","x":893,"y":-55},{"s":"b","x":898,"y":-55},{"s":"b","x":902,"y":-40},{"s":"b","x":908,"y":-28},{"s":"b","x":918,"y":-15},{"s":"b","x":930,"y":-8},{"s":"b","x":945,"y":-4},{"s":"b","x":970,"y":-3},{"s":"b","x":999,"y":-2},
{"s":"p","x":0,"y":1},
{"s":"p","x":101,"y":1},{"s":"p","x":102,"y":-33},{"s":"p","x":108,"y":-33},{"s":"p","x":109,"y":1},
{"s":"p","x":238,"y":1},{"s":"p","x":239,"y":-33},{"s":"p","x":245,"y":-33},{"s":"p","x":246,"y":1},
{"s":"p","x":376,"y":1},{"s":"p","x":377,"y":-33},{"s":"p","x":383,"y":-33},{"s":"p","x":384,"y":1},
{"s":"p","x":512,"y":1},{"s":"p","x":513,"y":-33},{"s":"p","x":519,"y":-33},{"s":"p","x":520,"y":1},
{"s":"p","x":649,"y":1},{"s":"p","x":650,"y":-33},{"s":"p","x":656,"y":-33},{"s":"p","x":657,"y":1},
{"s":"p","x":786,"y":1},{"s":"p","x":787,"y":-33},{"s":"p","x":793,"y":-33},{"s":"p","x":794,"y":1},
{"s":"p","x":923,"y":1},{"s":"p","x":924,"y":-33},{"s":"p","x":930,"y":-33},{"s":"p","x":931,"y":1},
{"s":"p","x":999,"y":1}
],
"ab6":[
{"s":"b","x":0,"y":0},{"s":"b","x":999,"y":0},
{"s":"p","x":0,"y":0.5},{"s":"p","x":999,"y":0.5}
],
"ab7":[
{"s":"b","x":0,"y":0},{"s":"b","x":809,"y":0},{"s":"b","x":812,"y":-55},{"s":"b","x":817,"y":-55},{"s":"b","x":822,"y":-38},{"s":"b","x":830,"y":-25},{"s":"b","x":840,"y":-15},{"s":"b","x":852,"y":-8},{"s":"b","x":862,"y":-4},{"s":"b","x":872,"y":-8},{"s":"b","x":880,"y":-6},{"s":"b","x":886,"y":3},{"s":"b","x":892,"y":6},{"s":"b","x":898,"y":0},{"s":"b","x":905,"y":-4},{"s":"b","x":912,"y":2},{"s":"b","x":920,"y":5},{"s":"b","x":950,"y":5},{"s":"b","x":999,"y":5},
{"s":"p","x":0,"y":1},{"s":"p","x":999,"y":1}
],
"ab8":[
{"s":"r","x":0,"y":0},
{"s":"r","x":102,"y":0},{"s":"r","x":103,"y":38},{"s":"r","x":107,"y":38},{"s":"r","x":108,"y":0},
{"s":"r","x":240,"y":0},{"s":"r","x":241,"y":38},{"s":"r","x":245,"y":38},{"s":"r","x":246,"y":0},
{"s":"r","x":376,"y":0},{"s":"r","x":377,"y":38},{"s":"r","x":381,"y":38},{"s":"r","x":382,"y":0},
{"s":"r","x":512,"y":0},{"s":"r","x":513,"y":38},{"s":"r","x":517,"y":38},{"s":"r","x":518,"y":0},
{"s":"r","x":650,"y":0},{"s":"r","x":651,"y":38},{"s":"r","x":655,"y":38},{"s":"r","x":656,"y":0},
{"s":"r","x":788,"y":0},{"s":"r","x":789,"y":38},{"s":"r","x":793,"y":38},{"s":"r","x":794,"y":0},
{"s":"r","x":924,"y":0},{"s":"r","x":925,"y":38},{"s":"r","x":929,"y":38},{"s":"r","x":930,"y":0},
{"s":"r","x":999,"y":0},
{"s":"b","x":0,"y":0},{"s":"b","x":200,"y":0},{"s":"b","x":210,"y":-3},{"s":"b","x":220,"y":0},{"s":"b","x":612,"y":0},{"s":"b","x":615,"y":-45},{"s":"b","x":620,"y":-42},{"s":"b","x":628,"y":-28},{"s":"b","x":638,"y":-15},{"s":"b","x":648,"y":-6},{"s":"b","x":660,"y":-2},{"s":"b","x":690,"y":0},{"s":"b","x":700,"y":-3},{"s":"b","x":706,"y":-8},{"s":"b","x":710,"y":15},{"s":"b","x":716,"y":18},{"s":"b","x":722,"y":-6},{"s":"b","x":730,"y":-8},{"s":"b","x":738,"y":6},{"s":"b","x":745,"y":-7},{"s":"b","x":752,"y":-4},{"s":"b","x":758,"y":10},{"s":"b","x":766,"y":12},{"s":"b","x":775,"y":14},{"s":"b","x":782,"y":6},{"s":"b","x":790,"y":12},{"s":"b","x":800,"y":10},{"s":"b","x":815,"y":4},{"s":"b","x":830,"y":2},{"s":"b","x":860,"y":5},{"s":"b","x":890,"y":4},{"s":"b","x":920,"y":6},{"s":"b","x":950,"y":5},{"s":"b","x":980,"y":3},{"s":"b","x":999,"y":2},
{"s":"p","x":0,"y":1},
{"s":"p","x":98,"y":1},{"s":"p","x":99,"y":-41},{"s":"p","x":105,"y":-41},{"s":"p","x":106,"y":1},
{"s":"p","x":236,"y":1},{"s":"p","x":237,"y":-41},{"s":"p","x":243,"y":-41},{"s":"p","x":244,"y":1},
{"s":"p","x":372,"y":1},{"s":"p","x":373,"y":-41},{"s":"p","x":379,"y":-41},{"s":"p","x":380,"y":1},
{"s":"p","x":508,"y":1},{"s":"p","x":509,"y":-41},{"s":"p","x":515,"y":-41},{"s":"p","x":516,"y":1},
{"s":"p","x":646,"y":1},{"s":"p","x":647,"y":-41},{"s":"p","x":653,"y":-41},{"s":"p","x":654,"y":1},
{"s":"p","x":784,"y":1},{"s":"p","x":785,"y":-41},{"s":"p","x":791,"y":-41},{"s":"p","x":792,"y":1},
{"s":"p","x":920,"y":1},{"s":"p","x":921,"y":-41},{"s":"p","x":927,"y":-41},{"s":"p","x":928,"y":1},
{"s":"p","x":999,"y":1}
]
},
"columns":4,
"spacing":{"row":9.3,"column":62.5},
"bounds":"flush",
"concat":[
{"title":"Normal RF Station","width":287,"height":43,"data":{"name":"nr1"},"mark":{"type":"line","color":"#1f77b4","strokeWidth":2.5,"clip":true},"encoding":{"x":{"field":"x","type":"quantitative","scale":{"domain":[-2.45,51.45],"nice":false,"zero":false},"axis":{"title":null,"values":[0,20,40],"labels":false}},"y":{"field":"y","type":"quantitative","scale":{"domain":[-30,0],"nice":false,"zero":false},"axis":{"title":null,"values":[-25,0]}}}},
{"title":"Normal BPM","width":287,"height":43,"data":{"name":"nb1"},"mark":{"type":"line","strokeWidth":2.6,"clip":true},"encoding":{"x":{"field":"x","type":"quantitative","scale":{"domain":[-50,1049],"nice":false,"zero":false},"axis":{"title":null,"values":[0,250,500,750,1000],"labels":false}},"y":{"field":"y","type":"quantitative","scale":{"domain":[-50,50],"nice":false,"zero":false},"axis":{"title":null,"values":[-50,0,50]}},"color":{"field":"s","type":"nominal","scale":{"domain":["r","u","b","p"],"range":["#d62728","#9467bd","#8c564b","#e377c2"]},"legend":null}}},
{"title":"Anomaly RF Station","width":287,"height":43,"data":{"name":"ar1"},"mark":{"type":"line","color":"#1f77b4","strokeWidth":2.5,"clip":true},"encoding":{"x":{"field":"x","type":"quantitative","scale":{"domain":[-2.45,51.45],"nice":false,"zero":false},"axis":{"title":null,"values":[0,20,40],"labels":false}},"y":{"field":"y","type":"quantitative","scale":{"domain":[-30,0],"nice":false,"zero":false},"axis":{"title":null,"values":[-25,0]}}}},
{"title":"Anomaly BPM","width":287,"height":43,"data":{"name":"ab1"},"mark":{"type":"line","strokeWidth":2.6,"clip":true},"encoding":{"x":{"field":"x","type":"quantitative","scale":{"domain":[-50,1049],"nice":false,"zero":false},"axis":{"title":null,"values":[0,250,500,750,1000],"labels":false}},"y":{"field":"y","type":"quantitative","scale":{"domain":[-50,50],"nice":false,"zero":false},"axis":{"title":null,"values":[-50,0,50]}},"color":{"field":"s","type":"nominal","scale":{"domain":["r","u","b","p"],"range":["#d62728","#9467bd","#8c564b","#e377c2"]},"legend":null}}},
{"width":287,"height":43,"data":{"name":"nr2"},"mark":{"type":"line","color":"#1f77b4","strokeWidth":2.5,"clip":true},"encoding":{"x":{"field":"x","type":"quantitative","scale":{"domain":[-2.45,51.45],"nice":false,"zero":false},"axis":{"title":null,"values":[0,20,40],"labels":false}},"y":{"field":"y","type":"quantitative","scale":{"domain":[-30,0],"nice":false,"zero":false},"axis":{"title":null,"values":[-25,0]}}}},
{"width":287,"height":43,"data":{"name":"nb2"},"mark":{"type":"line","strokeWidth":2.6,"clip":true},"encoding":{"x":{"field":"x","type":"quantitative","scale":{"domain":[-50,1049],"nice":false,"zero":false},"axis":{"title":null,"values":[0,250,500,750,1000],"labels":false}},"y":{"field":"y","type":"quantitative","scale":{"domain":[-50,50],"nice":false,"zero":false},"axis":{"title":null,"values":[-50,0,50]}},"color":{"field":"s","type":"nominal","scale":{"domain":["r","u","b","p"],"range":["#d62728","#9467bd","#8c564b","#e377c2"]},"legend":null}}},
{"width":287,"height":43,"data":{"name":"ar2"},"mark":{"type":"line","color":"#1f77b4","strokeWidth":2.5,"clip":true},"encoding":{"x":{"field":"x","type":"quantitative","scale":{"domain":[-2.45,51.45],"nice":false,"zero":false},"axis":{"title":null,"values":[0,20,40],"labels":false}},"y":{"field":"y","type":"quantitative","scale":{"domain":[-30,0],"nice":false,"zero":false},"axis":{"title":null,"values":[-25,0]}}}},
{"width":287,"height":43,"data":{"name":"ab2"},"mark":{"type":"line","strokeWidth":2.6,"clip":true},"encoding":{"x":{"field":"x","type":"quantitative","scale":{"domain":[-50,1049],"nice":false,"zero":false},"axis":{"title":null,"values":[0,250,500,750,1000],"labels":false}},"y":{"field":"y","type":"quantitative","scale":{"domain":[-50,50],"nice":false,"zero":false},"axis":{"title":null,"values":[-50,0,50]}},"color":{"field":"s","type":"nominal","scale":{"domain":["r","u","b","p"],"range":["#d62728","#9467bd","#8c564b","#e377c2"]},"legend":null}}},
{"width":287,"height":43,"data":{"name":"nr3"},"mark":{"type":"line","color":"#1f77b4","strokeWidth":2.5,"clip":true},"encoding":{"x":{"field":"x","type":"quantitative","scale":{"domain":[-2.45,51.45],"nice":false,"zero":false},"axis":{"title":null,"values":[0,20,40],"labels":false}},"y":{"field":"y","type":"quantitative","scale":{"domain":[-30,0],"nice":false,"zero":false},"axis":{"title":null,"values":[-25,0]}}}},
{"width":287,"height":43,"data":{"name":"nb3"},"mark":{"type":"line","strokeWidth":2.6,"clip":true},"encoding":{"x":{"field":"x","type":"quantitative","scale":{"domain":[-50,1049],"nice":false,"zero":false},"axis":{"title":null,"values":[0,250,500,750,1000],"labels":false}},"y":{"field":"y","type":"quantitative","scale":{"domain":[-50,50],"nice":false,"zero":false},"axis":{"title":null,"values":[-50,0,50]}},"color":{"field":"s","type":"nominal","scale":{"domain":["r","u","b","p"],"range":["#d62728","#9467bd","#8c564b","#e377c2"]},"legend":null}}},
{"width":287,"height":43,"data":{"name":"ar3"},"mark":{"type":"line","color":"#1f77b4","strokeWidth":2.5,"clip":true},"encoding":{"x":{"field":"x","type":"quantitative","scale":{"domain":[-2.45,51.45],"nice":false,"zero":false},"axis":{"title":null,"values":[0,20,40],"labels":false}},"y":{"field":"y","type":"quantitative","scale":{"domain":[-30,0],"nice":false,"zero":false},"axis":{"title":null,"values":[-25,0]}}}},
{"width":287,"height":43,"data":{"name":"ab3"},"mark":{"type":"line","strokeWidth":2.6,"clip":true},"encoding":{"x":{"field":"x","type":"quantitative","scale":{"domain":[-50,1049],"nice":false,"zero":false},"axis":{"title":null,"values":[0,250,500,750,1000],"labels":false}},"y":{"field":"y","type":"quantitative","scale":{"domain":[-50,50],"nice":false,"zero":false},"axis":{"title":null,"values":[-50,0,50]}},"color":{"field":"s","type":"nominal","scale":{"domain":["r","u","b","p"],"range":["#d62728","#9467bd","#8c564b","#e377c2"]},"legend":null}}},
{"width":287,"height":43,"data":{"name":"nr4"},"mark":{"type":"line","color":"#1f77b4","strokeWidth":2.5,"clip":true},"encoding":{"x":{"field":"x","type":"quantitative","scale":{"domain":[-2.45,51.45],"nice":false,"zero":false},"axis":{"title":null,"values":[0,20,40],"labels":false}},"y":{"field":"y","type":"quantitative","scale":{"domain":[-30,0],"nice":false,"zero":false},"axis":{"title":null,"values":[-25,0]}}}},
{"width":287,"height":43,"data":{"name":"nb4"},"mark":{"type":"line","strokeWidth":2.6,"clip":true},"encoding":{"x":{"field":"x","type":"quantitative","scale":{"domain":[-50,1049],"nice":false,"zero":false},"axis":{"title":null,"values":[0,250,500,750,1000],"labels":false}},"y":{"field":"y","type":"quantitative","scale":{"domain":[-50,50],"nice":false,"zero":false},"axis":{"title":null,"values":[-50,0,50]}},"color":{"field":"s","type":"nominal","scale":{"domain":["r","u","b","p"],"range":["#d62728","#9467bd","#8c564b","#e377c2"]},"legend":null}}},
{"width":287,"height":43,"data":{"name":"ar4"},"mark":{"type":"line","color":"#1f77b4","strokeWidth":2.5,"clip":true},"encoding":{"x":{"field":"x","type":"quantitative","scale":{"domain":[-2.45,51.45],"nice":false,"zero":false},"axis":{"title":null,"values":[0,20,40],"labels":false}},"y":{"field":"y","type":"quantitative","scale":{"domain":[-30,0],"nice":false,"zero":false},"axis":{"title":null,"values":[-25,0]}}}},
{"width":287,"height":43,"data":{"name":"ab4"},"mark":{"type":"line","strokeWidth":2.6,"clip":true},"encoding":{"x":{"field":"x","type":"quantitative","scale":{"domain":[-50,1049],"nice":false,"zero":false},"axis":{"title":null,"values":[0,250,500,750,1000],"labels":false}},"y":{"field":"y","type":"quantitative","scale":{"domain":[-50,50],"nice":false,"zero":false},"axis":{"title":null,"values":[-50,0,50]}},"color":{"field":"s","type":"nominal","scale":{"domain":["r","u","b","p"],"range":["#d62728","#9467bd","#8c564b","#e377c2"]},"legend":null}}},
{"width":287,"height":43,"data":{"name":"nr5"},"mark":{"type":"line","color":"#1f77b4","strokeWidth":2.5,"clip":true},"encoding":{"x":{"field":"x","type":"quantitative","scale":{"domain":[-2.45,51.45],"nice":false,"zero":false},"axis":{"title":null,"values":[0,20,40],"labels":false}},"y":{"field":"y","type":"quantitative","scale":{"domain":[-30,0],"nice":false,"zero":false},"axis":{"title":null,"values":[-25,0]}}}},
{"width":287,"height":43,"data":{"name":"nb5"},"mark":{"type":"line","strokeWidth":2.6,"clip":true},"encoding":{"x":{"field":"x","type":"quantitative","scale":{"domain":[-50,1049],"nice":false,"zero":false},"axis":{"title":null,"values":[0,250,500,750,1000],"labels":false}},"y":{"field":"y","type":"quantitative","scale":{"domain":[-50,50],"nice":false,"zero":false},"axis":{"title":null,"values":[-50,0,50]}},"color":{"field":"s","type":"nominal","scale":{"domain":["r","u","b","p"],"range":["#d62728","#9467bd","#8c564b","#e377c2"]},"legend":null}}},
{"width":287,"height":43,"data":{"name":"ar5"},"mark":{"type":"line","color":"#1f77b4","strokeWidth":2.5,"clip":true},"encoding":{"x":{"field":"x","type":"quantitative","scale":{"domain":[-2.45,51.45],"nice":false,"zero":false},"axis":{"title":null,"values":[0,20,40],"labels":false}},"y":{"field":"y","type":"quantitative","scale":{"domain":[-30,0],"nice":false,"zero":false},"axis":{"title":null,"values":[-25,0]}}}},
{"width":287,"height":43,"data":{"name":"ab5"},"mark":{"type":"line","strokeWidth":2.6,"clip":true},"encoding":{"x":{"field":"x","type":"quantitative","scale":{"domain":[-50,1049],"nice":false,"zero":false},"axis":{"title":null,"values":[0,250,500,750,1000],"labels":false}},"y":{"field":"y","type":"quantitative","scale":{"domain":[-50,50],"nice":false,"zero":false},"axis":{"title":null,"values":[-50,0,50]}},"color":{"field":"s","type":"nominal","scale":{"domain":["r","u","b","p"],"range":["#d62728","#9467bd","#8c564b","#e377c2"]},"legend":null}}},
{"width":287,"height":43,"data":{"name":"nr6"},"mark":{"type":"line","color":"#1f77b4","strokeWidth":2.5,"clip":true},"encoding":{"x":{"field":"x","type":"quantitative","scale":{"domain":[-2.45,51.45],"nice":false,"zero":false},"axis":{"title":null,"values":[0,20,40],"labels":false}},"y":{"field":"y","type":"quantitative","scale":{"domain":[-30,0],"nice":false,"zero":false},"axis":{"title":null,"values":[-25,0]}}}},
{"width":287,"height":43,"data":{"name":"nb6"},"mark":{"type":"line","strokeWidth":2.6,"clip":true},"encoding":{"x":{"field":"x","type":"quantitative","scale":{"domain":[-50,1049],"nice":false,"zero":false},"axis":{"title":null,"values":[0,250,500,750,1000],"labels":false}},"y":{"field":"y","type":"quantitative","scale":{"domain":[-50,50],"nice":false,"zero":false},"axis":{"title":null,"values":[-50,0,50]}},"color":{"field":"s","type":"nominal","scale":{"domain":["r","u","b","p"],"range":["#d62728","#9467bd","#8c564b","#e377c2"]},"legend":null}}},
{"width":287,"height":43,"data":{"name":"ar6"},"mark":{"type":"line","color":"#1f77b4","strokeWidth":2.5,"clip":true},"encoding":{"x":{"field":"x","type":"quantitative","scale":{"domain":[-2.45,51.45],"nice":false,"zero":false},"axis":{"title":null,"values":[0,20,40],"labels":false}},"y":{"field":"y","type":"quantitative","scale":{"domain":[-30,0],"nice":false,"zero":false},"axis":{"title":null,"values":[-25,0]}}}},
{"width":287,"height":43,"data":{"name":"ab6"},"mark":{"type":"line","strokeWidth":2.6,"clip":true},"encoding":{"x":{"field":"x","type":"quantitative","scale":{"domain":[-50,1049],"nice":false,"zero":false},"axis":{"title":null,"values":[0,250,500,750,1000],"labels":false}},"y":{"field":"y","type":"quantitative","scale":{"domain":[-50,50],"nice":false,"zero":false},"axis":{"title":null,"values":[-50,0,50]}},"color":{"field":"s","type":"nominal","scale":{"domain":["r","u","b","p"],"range":["#d62728","#9467bd","#8c564b","#e377c2"]},"legend":null}}},
{"width":287,"height":43,"data":{"name":"nr7"},"mark":{"type":"line","color":"#1f77b4","strokeWidth":2.5,"clip":true},"encoding":{"x":{"field":"x","type":"quantitative","scale":{"domain":[-2.45,51.45],"nice":false,"zero":false},"axis":{"title":null,"values":[0,20,40],"labels":false}},"y":{"field":"y","type":"quantitative","scale":{"domain":[-30,0],"nice":false,"zero":false},"axis":{"title":null,"values":[-25,0]}}}},
{"width":287,"height":43,"data":{"name":"nb7"},"mark":{"type":"line","strokeWidth":2.6,"clip":true},"encoding":{"x":{"field":"x","type":"quantitative","scale":{"domain":[-50,1049],"nice":false,"zero":false},"axis":{"title":null,"values":[0,250,500,750,1000],"labels":false}},"y":{"field":"y","type":"quantitative","scale":{"domain":[-50,50],"nice":false,"zero":false},"axis":{"title":null,"values":[-50,0,50]}},"color":{"field":"s","type":"nominal","scale":{"domain":["r","u","b","p"],"range":["#d62728","#9467bd","#8c564b","#e377c2"]},"legend":null}}},
{"width":287,"height":43,"data":{"name":"ar7"},"mark":{"type":"line","color":"#1f77b4","strokeWidth":2.5,"clip":true},"encoding":{"x":{"field":"x","type":"quantitative","scale":{"domain":[-2.45,51.45],"nice":false,"zero":false},"axis":{"title":null,"values":[0,20,40],"labels":false}},"y":{"field":"y","type":"quantitative","scale":{"domain":[-30,0],"nice":false,"zero":false},"axis":{"title":null,"values":[-25,0]}}}},
{"width":287,"height":43,"data":{"name":"ab7"},"mark":{"type":"line","strokeWidth":2.6,"clip":true},"encoding":{"x":{"field":"x","type":"quantitative","scale":{"domain":[-50,1049],"nice":false,"zero":false},"axis":{"title":null,"values":[0,250,500,750,1000],"labels":false}},"y":{"field":"y","type":"quantitative","scale":{"domain":[-50,50],"nice":false,"zero":false},"axis":{"title":null,"values":[-50,0,50]}},"color":{"field":"s","type":"nominal","scale":{"domain":["r","u","b","p"],"range":["#d62728","#9467bd","#8c564b","#e377c2"]},"legend":null}}},
{"width":287,"height":43,"data":{"name":"nr8"},"mark":{"type":"line","color":"#1f77b4","strokeWidth":2.5,"clip":true},"encoding":{"x":{"field":"x","type":"quantitative","scale":{"domain":[-2.45,51.45],"nice":false,"zero":false},"axis":{"title":null,"values":[0,20,40],"labels":true}},"y":{"field":"y","type":"quantitative","scale":{"domain":[-30,0],"nice":false,"zero":false},"axis":{"title":null,"values":[-25,0]}}}},
{"width":287,"height":43,"data":{"name":"nb8"},"mark":{"type":"line","strokeWidth":2.6,"clip":true},"encoding":{"x":{"field":"x","type":"quantitative","scale":{"domain":[-50,1049],"nice":false,"zero":false},"axis":{"title":null,"values":[0,250,500,750,1000],"labels":true}},"y":{"field":"y","type":"quantitative","scale":{"domain":[-50,50],"nice":false,"zero":false},"axis":{"title":null,"values":[-50,0,50]}},"color":{"field":"s","type":"nominal","scale":{"domain":["r","u","b","p"],"range":["#d62728","#9467bd","#8c564b","#e377c2"]},"legend":null}}},
{"width":287,"height":43,"data":{"name":"ar8"},"mark":{"type":"line","color":"#1f77b4","strokeWidth":2.5,"clip":true},"encoding":{"x":{"field":"x","type":"quantitative","scale":{"domain":[-2.45,51.45],"nice":false,"zero":false},"axis":{"title":null,"values":[0,20,40],"labels":true}},"y":{"field":"y","type":"quantitative","scale":{"domain":[-30,0],"nice":false,"zero":false},"axis":{"title":null,"values":[-25,0]}}}},
{"width":287,"height":43,"data":{"name":"ab8"},"mark":{"type":"line","strokeWidth":2.6,"clip":true},"encoding":{"x":{"field":"x","type":"quantitative","scale":{"domain":[-50,1049],"nice":false,"zero":false},"axis":{"title":null,"values":[0,250,500,750,1000],"labels":true}},"y":{"field":"y","type":"quantitative","scale":{"domain":[-50,50],"nice":false,"zero":false},"axis":{"title":null,"values":[-50,0,50]}},"color":{"field":"s","type":"nominal","scale":{"domain":["r","u","b","p"],"range":["#d62728","#9467bd","#8c564b","#e377c2"]},"legend":null}}}
]
}
